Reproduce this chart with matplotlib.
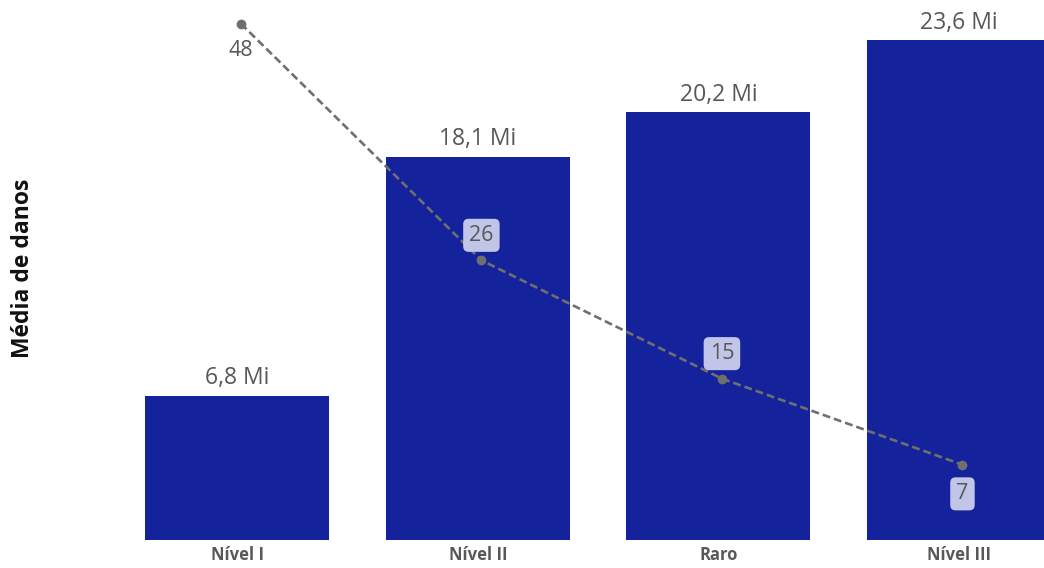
import matplotlib
matplotlib.use("Agg")
import matplotlib.pyplot as plt
import numpy as np

# Average damage per severity class (millions) and event counts
categories = ["Nível I", "Nível II", "Raro", "Nível III"]
media_danos = [6.8, 18.1, 20.2, 23.6]
bar_labels = ["6,8 Mi", "18,1 Mi", "20,2 Mi", "23,6 Mi"]
ocorrencias = [48, 26, 15, 7]

plt.rcParams["font.family"] = ["Open Sans", "DejaVu Sans"]

BAR_COLOR = "#14229B"
TEXT_GRAY = "#585858"
LINE_GRAY = "#6f6f6f"

fig = plt.figure(figsize=(10.44, 5.68), dpi=100)
ax = fig.add_axes([117 / 1044, 28 / 568, 927 / 1044, 540 / 568])

x = np.arange(len(categories))
bars = ax.bar(x, media_danos, width=0.765, color=BAR_COLOR, zorder=2)
ax.set_xlim(-0.5, 3.354)
ax.set_ylim(0, 25.5)

for rect, lab in zip(bars, bar_labels):
    ax.annotate(lab, (rect.get_x() + rect.get_width() / 2, rect.get_height()),
                xytext=(0, 4), textcoords="offset points", ha="center", va="bottom",
                fontsize=16.5, color=TEXT_GRAY)

ax.set_xticks(x)
ax.set_xticklabels(categories, fontsize=12, fontweight="bold", color=TEXT_GRAY)
ax.tick_params(axis="x", length=0, pad=4)
ax.set_yticks([])
for s in ax.spines.values():
    s.set_visible(False)

fig.text(23 / 1044, 1 - 268 / 568, "Média de danos", rotation=90, ha="center", va="center",
         fontsize=16.5, fontweight="bold", color="#111111")

# Event counts on a secondary axis
ax2 = ax.twinx()
ax2.set_ylim(0, 50.2)
ax2.plot(x + 0.015, ocorrencias, color=LINE_GRAY, linestyle=(0, (3, 1.5)), linewidth=1.9,
         marker="o", markersize=6, zorder=3)
ax2.set_yticks([])
for s in ax2.spines.values():
    s.set_visible(False)

offsets = [(0, -19), (0, 18), (0, 18), (0, -21)]
for i, (v, off) in enumerate(zip(ocorrencias, offsets)):
    box = None
    if i > 0:
        box = dict(boxstyle="round,pad=0.28,rounding_size=0.25", facecolor="#c8cbeb",
                   edgecolor="none", alpha=0.97)
    ax2.annotate(str(v), (x[i] + 0.015, v), xytext=off, textcoords="offset points",
                 ha="center", va="center", fontsize=15.5, color=TEXT_GRAY, bbox=box, zorder=4)

fig.savefig("out.png", dpi=100)
